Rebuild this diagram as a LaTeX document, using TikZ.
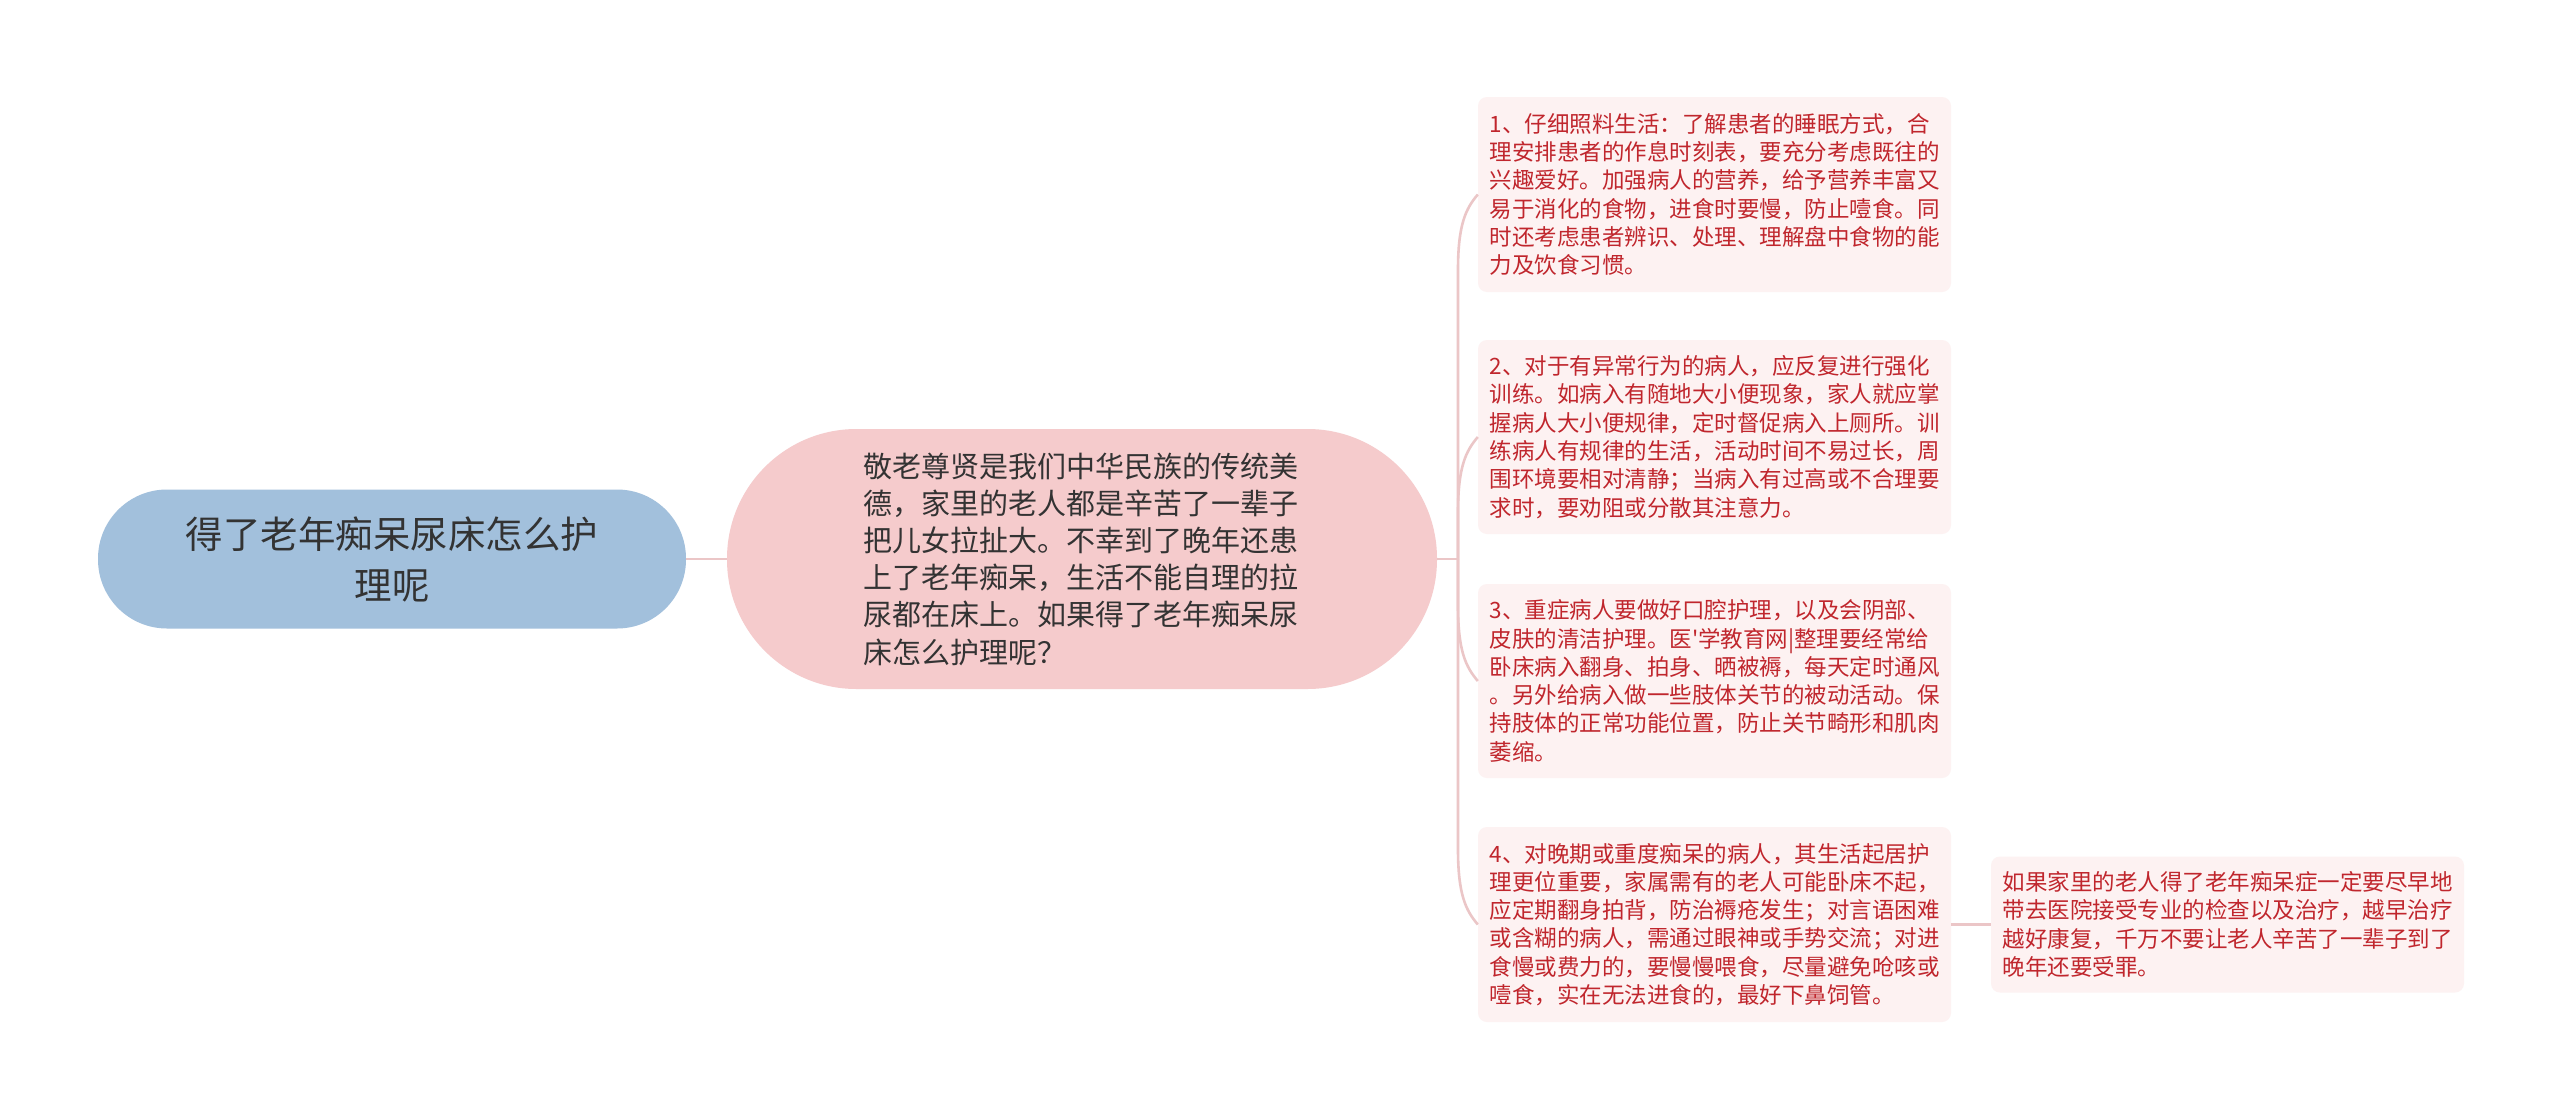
\documentclass[tikz,border=0pt]{standalone}
\usepackage{fontspec}
\usetikzlibrary{calc}
\newfontfamily\cjk{Noto Sans CJK SC}
\definecolor{rootblue}{HTML}{A2C0DC}
\definecolor{centerpink}{HTML}{F5CBCC}
\definecolor{leafbg}{HTML}{FDF2F2}
\definecolor{leaftext}{HTML}{C0262D}
\definecolor{textdark}{HTML}{333333}
\definecolor{connpink}{HTML}{EBC6C7}
\begin{document}
\begin{tikzpicture}[x=1pt,y=-1pt,
  rootbox/.style={fill=rootblue, draw=none, rounded corners=69pt, minimum width=588pt, minimum height=139pt, inner sep=0pt, align=center, text=textdark, font=\cjk\fontsize{37.5}{51}\selectfont},
  centerbox/.style={fill=centerpink, draw=none, rounded corners=129.5pt, minimum height=260pt, text width=437pt, inner xsep=136.5pt, inner ysep=0pt, align=left, text=textdark, font=\cjk\fontsize{29}{37.2}\selectfont},
  leafbox/.style={fill=leafbg, draw=none, rounded corners=9pt, text width=450pt, inner xsep=11.5pt, inner ysep=0pt, align=left, text=leaftext, font=\cjk\fontsize{22.5}{28.3}\selectfont},
  conn/.style={draw=connpink, line width=2.6pt}
]
\fill[white] (0,0) rectangle (2560,1119);
\useasboundingbox (0,0) rectangle (2560,1119);

\node[rootbox] (root) at (392,559) {得了老年痴呆尿床怎么护\\理呢};

\node[centerbox] (c) at (1082,559) {敬老尊贤是我们中华民族的传统美\\德，家里的老人都是辛苦了一辈子\\把儿女拉扯大。不幸到了晚年还患\\上了老年痴呆，生活不能自理的拉\\尿都在床上。如果得了老年痴呆尿\\床怎么护理呢？};

\node[leafbox, minimum height=195pt] (n1) at (1714.5,194.5) {1、仔细照料生活：了解患者的睡眠方式，合\\理安排患者的作息时刻表，要充分考虑既往的\\兴趣爱好。加强病人的营养，给予营养丰富又\\易于消化的食物，进食时要慢，防止噎食。同\\时还考虑患者辨识、处理、理解盘中食物的能\\力及饮食习惯。};

\node[leafbox, minimum height=194pt] (n2) at (1714.5,437) {2、对于有异常行为的病人，应反复进行强化\\训练。如病入有随地大小便现象，家人就应掌\\握病人大小便规律，定时督促病入上厕所。训\\练病人有规律的生活，活动时间不易过长，周\\围环境要相对清静；当病入有过高或不合理要\\求时，要劝阻或分散其注意力。};

\node[leafbox, minimum height=194pt] (n3) at (1714.5,681) {3、重症病人要做好口腔护理，以及会阴部、\\皮肤的清洁护理。医'学教育网|整理要经常给\\卧床病入翻身、拍身、晒被褥，每天定时通风\\。另外给病入做一些肢体关节的被动活动。保\\持肢体的正常功能位置，防止关节畸形和肌肉\\萎缩。};

\node[leafbox, minimum height=195pt] (n4) at (1714.5,924.5) {4、对晚期或重度痴呆的病人，其生活起居护\\理更位重要，家属需有的老人可能卧床不起，\\应定期翻身拍背，防治褥疮发生；对言语困难\\或含糊的病人，需通过眼神或手势交流；对进\\食慢或费力的，要慢慢喂食，尽量避免呛咳或\\噎食，实在无法进食的，最好下鼻饲管。};

\node[leafbox, minimum height=136pt] (f) at (2227.5,924.5) {如果家里的老人得了老年痴呆症一定要尽早地\\带去医院接受专业的检查以及治疗，越早治疗\\越好康复，千万不要让老人辛苦了一辈子到了\\晚年还要受罪。};

\coordinate (spine) at (1458,559);
\draw[conn] (root.east) -- (c.west);
\draw[conn] (c.east) -- (spine);
% branches above the centre line
\draw[conn] (spine) -- ($(spine |- n1.west)+(0,75)$) .. controls +(0,-45) and +(-12,14) .. (n1.west);
\draw[conn] (spine) -- ($(spine |- n2.west)+(0,75)$) .. controls +(0,-45) and +(-12,14) .. (n2.west);
% branches below the centre line
\draw[conn] (spine) -- ($(spine |- n3.west)+(0,-75)$) .. controls +(0,45) and +(-12,-14) .. (n3.west);
\draw[conn] (spine) -- ($(spine |- n4.west)+(0,-75)$) .. controls +(0,45) and +(-12,-14) .. (n4.west);
\draw[conn] (n4.east) -- (f.west);
\end{tikzpicture}
\end{document}
